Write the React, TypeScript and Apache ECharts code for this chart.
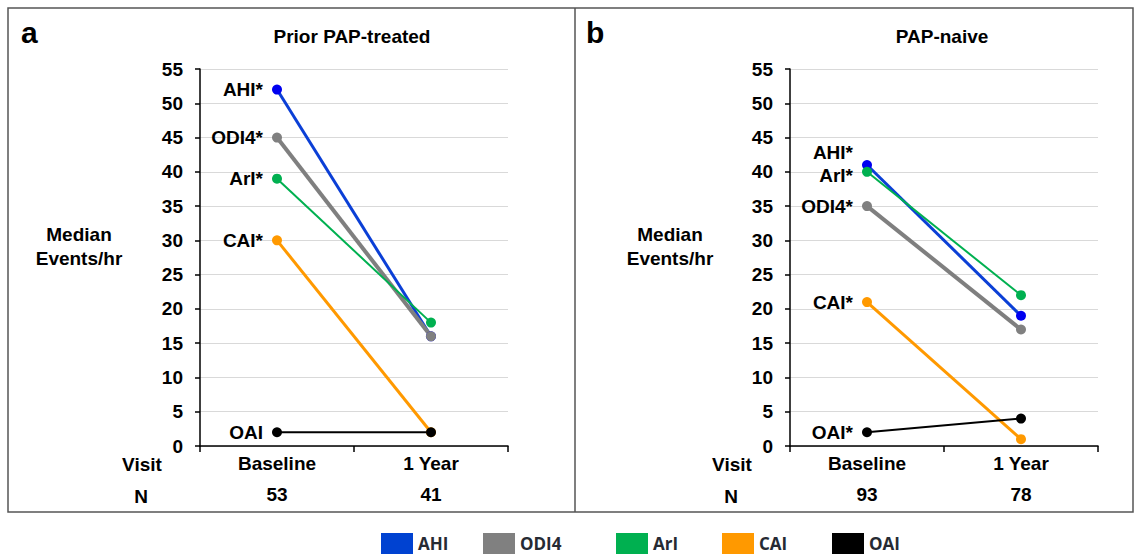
import React, { useEffect, useRef } from "react";
import * as echarts from "echarts";

const visits = ["Baseline", "1 Year"];
const nPrior = ["53", "41"];
const nNaive = ["93", "78"];
const seriesNames = ["AHI", "ODI4", "ArI", "CAI", "OAI"];
const priorValues = [
  [52, 16],
  [45, 16],
  [39, 18],
  [30, 2],
  [2, 2],
];
const naiveValues = [
  [41, 19],
  [35, 17],
  [40, 22],
  [21, 1],
  [2, 4],
];
const priorLabels = ["AHI*", "ODI4*", "ArI*", "CAI*", "OAI"];
const naiveLabels = ["AHI*", "ODI4*", "ArI*", "CAI*", "OAI*"];
const yTicks = { min: 0, max: 55, interval: 5 };

const lineColors = ["#0B3FD6", "#7F7F7F", "#00B050", "#FF9900", "#000000"];
const dotColors = ["#0000F0", "#808080", "#00B050", "#FF9900", "#000000"];
const legendColors = ["#0042D1", "#808080", "#00B050", "#FF9900", "#000000"];
const lineWidths = [3, 4, 2, 3, 2];
const naiveLabelOffsets = [
  [0, -12],
  [0, 0],
  [0, 4],
  [0, 0],
  [0, 0],
];
const legendLefts = [381, 483, 616, 722, 832];

const FONT = "'Liberation Sans', Arial, sans-serif";
const FS = 19;

export default function App() {
  const ref = useRef<HTMLDivElement>(null);
  useEffect(() => {
    if (!ref.current) return;
    const chart = echarts.init(ref.current, undefined, { renderer: "svg" });

    const grids = [
      { left: 200, top: 69, width: 308, height: 377 },
      { left: 790, top: 69, width: 308, height: 377 },
    ];

    const xAxes: any[] = [];
    const yAxes: any[] = [];
    [0, 1].forEach((g) => {
      xAxes.push({
        type: "category",
        gridIndex: g,
        data: visits,
        boundaryGap: true,
        axisLine: { show: true, lineStyle: { color: "#000", width: 1.5 } },
        axisTick: { show: true, length: 6, lineStyle: { color: "#000", width: 1.5 } },
        axisLabel: { color: "#000", fontFamily: FONT, fontWeight: "bold", fontSize: FS, margin: 8 },
        splitLine: { show: false },
      });
      xAxes.push({
        type: "category",
        gridIndex: g,
        position: "bottom",
        offset: 31,
        data: g === 0 ? nPrior : nNaive,
        boundaryGap: true,
        axisLine: { show: false },
        axisTick: { show: false },
        axisLabel: { color: "#000", fontFamily: FONT, fontWeight: "bold", fontSize: FS, margin: 8 },
        splitLine: { show: false },
      });
      yAxes.push({
        type: "value",
        gridIndex: g,
        min: yTicks.min,
        max: yTicks.max,
        interval: yTicks.interval,
        axisLine: { show: true, lineStyle: { color: "#000", width: 1.5 } },
        axisTick: { show: true, length: 5, lineStyle: { color: "#000", width: 1.5 } },
        axisLabel: { color: "#000", fontFamily: FONT, fontWeight: "bold", fontSize: FS, margin: 17 },
        splitLine: { show: true, lineStyle: { color: "#D9D9D9", width: 1.2 } },
      });
    });

    const series: any[] = [];
    [0, 1].forEach((g) => {
      const vals = g === 0 ? priorValues : naiveValues;
      const labels = g === 0 ? priorLabels : naiveLabels;
      seriesNames.forEach((name, i) => {
        series.push({
          type: "line",
          name,
          xAxisIndex: g * 2,
          yAxisIndex: g,
          symbol: "circle",
          symbolSize: 10,
          showSymbol: true,
          lineStyle: { color: lineColors[i], width: lineWidths[i] },
          itemStyle: { color: dotColors[i] },
          emphasis: { disabled: true },
          data: vals[i].map((v, j) =>
            j === 0
              ? {
                  value: v,
                  label: {
                    show: true,
                    formatter: labels[i],
                    position: "left",
                    distance: 9,
                    offset: g === 1 ? naiveLabelOffsets[i] : [0, 0],
                    color: "#000",
                    fontFamily: FONT,
                    fontWeight: "bold",
                    fontSize: FS,
                  },
                }
              : { value: v }
          ),
        });
      });
    });

    const legends = seriesNames.map((name, i) => ({
      data: [{ name, itemStyle: { color: legendColors[i] } }],
      left: legendLefts[i],
      top: 533,
      padding: 0,
      icon: "rect",
      itemWidth: 32,
      itemHeight: 21,
      itemGap: 8,
      selectedMode: false,
      textStyle: { color: "#262a33", fontFamily: "'Open Sans', sans-serif", fontWeight: "bold", fontSize: 17 },
    }));

    const txt = (x: number, y: number, text: string, size = FS) => ({
      type: "text",
      x,
      y,
      style: {
        text,
        fill: "#000",
        font: `bold ${size}px ${FONT}`,
        textAlign: "center",
        textVerticalAlign: "middle",
      },
    });

    const graphics: any[] = [
      {
        type: "rect",
        shape: { x: 8, y: 8, width: 1125, height: 504 },
        style: { fill: "none", stroke: "#555", lineWidth: 1.5 },
      },
      {
        type: "line",
        shape: { x1: 575, y1: 8, x2: 575, y2: 512 },
        style: { stroke: "#555", lineWidth: 1.5 },
      },
      { type: "text", x: 21, y: 32, style: { text: "a", fill: "#000", font: `bold 30px ${FONT}`, textAlign: "left", textVerticalAlign: "middle" } },
      { type: "text", x: 586, y: 32, style: { text: "b", fill: "#000", font: `bold 30px ${FONT}`, textAlign: "left", textVerticalAlign: "middle" } },
      txt(352, 36, "Prior PAP-treated"),
      txt(942, 36, "PAP-naive"),
      txt(79, 234, "Median"),
      txt(79, 258, "Events/hr"),
      txt(670, 234, "Median"),
      txt(670, 258, "Events/hr"),
      txt(142, 464, "Visit"),
      txt(141, 496, "N"),
      txt(732, 464, "Visit"),
      txt(731, 496, "N"),
    ];

    chart.setOption({
      animation: false,
      backgroundColor: "#fff",
      grid: grids,
      xAxis: xAxes,
      yAxis: yAxes,
      legend: legends,
      series,
      graphic: graphics,
    });
    return () => chart.dispose();
  }, []);
  return (
    <div
      ref={ref}
      style={{ position: "fixed", left: 0, top: 0, width: 1135, height: 555 }}
    />
  );
}
